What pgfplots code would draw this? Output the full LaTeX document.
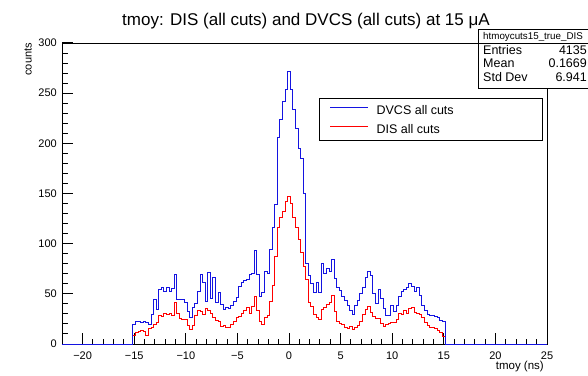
\documentclass[border=0pt]{standalone}
\usepackage{pgfplots}
\pgfplotsset{compat=1.18}
\usepackage{pgfplotstable}
\usepackage{fontspec}
\setmainfont{Liberation Sans}
\definecolor{rootblue}{RGB}{20,20,225}
\definecolor{rootred}{RGB}{255,0,0}

% x = left edge of each 0.25 ns bin
\pgfplotstableread{
x dvcs dis
-22 0 0
-15.125 19 8
-14.875 22 11
-14.625 22 12
-14.375 21 13
-14.125 22 12
-13.875 21 8
-13.625 19 15
-13.375 29 16
-13.125 44 19
-12.875 34 21
-12.625 54 28
-12.375 56 27
-12.125 52 30
-11.875 56 29
-11.625 52 30
-11.375 55 28
-11.125 69 41
-10.875 44 30
-10.625 44 25
-10.375 44 24
-10.125 41 24
-9.875 32 18
-9.625 26 14
-9.375 36 18
-9.125 40 28
-8.875 52 33
-8.625 69 32
-8.375 61 29
-8.125 42 35
-7.875 71 33
-7.625 45 30
-7.375 66 26
-7.125 41 23
-6.875 51 22
-6.625 39 17
-6.375 34 18
-6.125 36 16
-5.875 35 16
-5.625 38 19
-5.375 42 22
-5.125 46 26
-4.875 57 27
-4.625 61 30
-4.375 63 33
-4.125 64 36
-3.875 69 30
-3.625 70 37
-3.375 93 47
-3.125 69 33
-2.875 47 22
-2.625 51 19
-2.375 72 26
-2.125 70 28
-1.875 94 42
-1.625 116 58
-1.375 139 87
-1.125 206 116
-0.875 224 126
-0.625 242 132
-0.375 254 142
-0.125 272 147
0.125 254 140
0.375 234 126
0.625 215 116
0.875 195 104
1.125 185 91
1.375 150 77
1.625 80 64
1.875 68 41
2.125 60 37
2.375 51 29
2.625 61 26
2.875 51 24
3.125 80 34
3.375 70 36
3.625 75 39
3.875 72 41
4.125 84 48
4.375 65 32
4.625 56 22
4.875 53 20
5.125 47 19
5.375 43 16
5.625 38 15
5.875 33 17
6.125 29 14
6.375 38 16
6.625 43 18
6.875 50 22
7.125 56 29
7.375 66 34
7.625 72 37
7.875 68 31
8.125 50 27
8.375 40 25
8.625 54 25
8.875 45 20
9.125 35 17
9.375 28 19
9.625 28 20
9.875 38 21
10.125 32 21
10.375 38 24
10.625 47 30
10.875 52 29
11.125 54 33
11.375 56 30
11.625 60 35
11.875 57 36
12.125 52 31
12.375 56 30
12.625 48 29
12.875 38 26
13.125 33 21
13.375 29 18
13.625 28 16
13.875 28 16
14.125 27 15
14.375 26 13
14.625 23 11
14.875 22 7
15.125 0 0
25 0 0
}\histdata

\begin{document}
\begin{tikzpicture}
\useasboundingbox (0pt,0pt) rectangle (588pt,375pt);
\begin{axis}[
  at={(62pt,31pt)}, anchor=south west,
  scale only axis, width=485pt, height=301pt,
  xmin=-22, xmax=25, ymin=0, ymax=300,
  xtick={-20,-15,-10,-5,0,5,10,15,20,25},
  xticklabels={−20,−15,−10,−5,0,5,10,15,20,25},
  ytick={0,50,100,150,200,250,300},
  minor x tick num=4, minor y tick num=4,
  xtick pos=bottom, ytick pos=left,
  xtick align=inside, ytick align=inside,
  major tick length=11pt, minor tick length=5.5pt,
  xtick style={draw=black, line width=1pt},
  ytick style={draw=black, line width=1pt},
  axis line style={black, line width=0.8pt},
  /pgf/number format/assume math mode=true,
  ticklabel style={font=\fontsize{11}{12}\selectfont},
  xticklabel style={anchor=base, yshift=-15pt, inner sep=0pt},
  yticklabel style={anchor=east, inner sep=0pt, xshift=-5pt},
  xlabel={tmoy (ns)},
  xlabel style={at={(axis description cs:1,0)}, anchor=base east, yshift=-25.5pt, xshift=-3pt, font=\fontsize{11.5}{12}\selectfont, inner sep=0pt},
  ylabel={counts},
  every axis y label/.style={at={(axis description cs:-0.0701,1)}, rotate=90, anchor=east, font=\fontsize{11}{12}\selectfont, inner sep=0pt},
  legend image code/.code={\draw[#1, line width=1pt] (0pt,2.3pt) -- (38pt,2.3pt);},
  reverse legend,
  legend cell align=left,
  legend style={at={(rel axis cs:0.9918,0.8173)}, anchor=north east,
    draw=black, line width=0.8pt, fill=white,
    inner xsep=10pt, inner ysep=7pt, row sep=10.1pt,
    column sep=0pt,
    font=\fontsize{12.5}{13}\selectfont,
    nodes={inner sep=0pt, text height=9.2pt, text depth=0pt}},
]
\addplot[const plot, color=rootred, line width=1pt] table[x=x, y=dis] {\histdata};
\addlegendentry{\hspace{8pt}\makebox[156pt][l]{DIS all cuts}}
\addplot[const plot, color=rootblue, line width=1pt] table[x=x, y=dvcs] {\histdata};
\addlegendentry{\hspace{8pt}\makebox[156pt][l]{DVCS all cuts}}
\end{axis}
% title
\node[anchor=base, inner sep=0pt, font=\fontsize{17}{18}\selectfont] at (306pt,349.5pt) {tmoy: DIS (all cuts) and DVCS (all cuts) at 15 μA};
% statistics box
\draw[line width=0.8pt, fill=white] (478pt,287pt) rectangle (610pt,346pt);
\draw[line width=0.8pt] (478pt,332pt) -- (610pt,332pt);
\node[anchor=base west, inner sep=0pt, font=\fontsize{9.8}{10}\selectfont] at (483pt,335pt) {htmoycuts15\_true\_DIS};
\node[anchor=base west, inner sep=0pt, font=\fontsize{12.5}{13}\selectfont] at (483pt,320.7pt) {Entries};
\node[anchor=base west, inner sep=0pt, font=\fontsize{12.5}{13}\selectfont] at (483pt,307.3pt) {Mean};
\node[anchor=base west, inner sep=0pt, font=\fontsize{12.5}{13}\selectfont] at (483pt,293.3pt) {Std Dev};
\node[anchor=base east, inner sep=0pt, font=\fontsize{12.5}{13}\selectfont] at (587pt,320.7pt) {4135};
\node[anchor=base east, inner sep=0pt, font=\fontsize{12.5}{13}\selectfont] at (587pt,307.3pt) {0.1669};
\node[anchor=base east, inner sep=0pt, font=\fontsize{12.5}{13}\selectfont] at (587pt,293.3pt) {6.941};
\end{tikzpicture}
\end{document}
